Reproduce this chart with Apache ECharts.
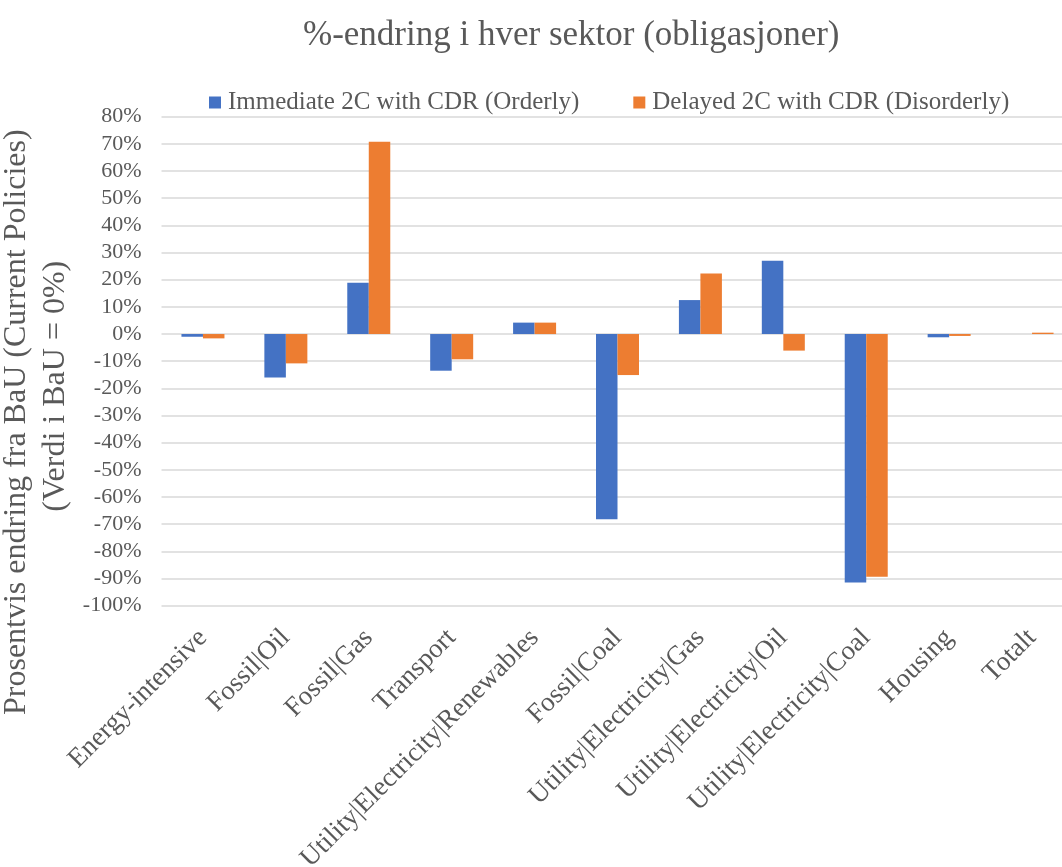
<!DOCTYPE html>
<html>
<head>
<meta charset="utf-8">
<script src="https://cdn.jsdelivr.net/npm/echarts@6/dist/echarts.min.js"></script>
<style>
  html, body { margin: 0; padding: 0; background: #ffffff; }
  #chart { width: 1062px; height: 867px; }
</style>
</head>
<body>
<div id="chart"></div>
<script>
// Sectors on the horizontal axis
var sectors = [
  'Energy-intensive', 'Fossil|Oil', 'Fossil|Gas', 'Transport',
  'Utility|Electricity|Renewables', 'Fossil|Coal', 'Utility|Electricity|Gas',
  'Utility|Electricity|Oil', 'Utility|Electricity|Coal', 'Housing', 'Totalt'
];

// Percent change versus BaU (Current Policies)
var orderly = [-1.0, -16.0, 18.9, -13.5, 4.2, -68.2, 12.5, 27.0, -91.5, -1.2, 0.0];
var disorderly = [-1.6, -10.8, 70.8, -9.3, 4.2, -15.1, 22.3, -6.1, -89.3, -0.7, 0.5];

var seriesNames = ['Immediate 2C with CDR (Orderly)', 'Delayed 2C with CDR (Disorderly)'];

// Value axis range and step (percent)
var yMin = -100;
var yMax = 80;
var yStep = 10;

var serif = '"Liberation Serif", "DejaVu Serif", serif';
var textColor = '#595959';
var gridColor = '#d9d9d9';

var chart = echarts.init(document.getElementById('chart'), null, { renderer: 'canvas' });

chart.setOption({
  animation: false,
  backgroundColor: '#ffffff',
  title: {
    text: '%-endring i hver sektor (obligasjoner)',
    left: 298,
    top: 13,
    textStyle: { fontFamily: serif, fontSize: 35, fontWeight: 'normal', color: textColor }
  },
  legend: {
    data: seriesNames,
    left: 204,
    top: 85,
    icon: 'rect',
    itemWidth: 12,
    itemHeight: 12,
    itemGap: 54,
    textStyle: { fontFamily: serif, fontSize: 25, color: textColor, padding: [0, 0, 0, 2] }
  },
  grid: {
    left: 161.5,
    right: -11.5,
    top: 116.7,
    bottom: 261.3,
    containLabel: false,
    outerBoundsMode: 'none'
  },
  xAxis: {
    type: 'category',
    data: sectors,
    axisLine: { show: false, onZero: false },
    axisTick: { show: false },
    splitLine: { show: false },
    axisLabel: {
      rotate: 45,
      interval: 0,
      margin: 28,
      fontFamily: serif,
      fontSize: 27,
      color: textColor
    }
  },
  yAxis: {
    type: 'value',
    min: yMin,
    max: yMax,
    interval: yStep,
    axisLine: { show: false },
    axisTick: { show: false },
    splitLine: { show: true, lineStyle: { color: gridColor, width: 1.5 } },
    axisLabel: {
      margin: 20,
      fontFamily: serif,
      fontSize: 22,
      color: textColor,
      formatter: function (v) { return v + '%'; }
    },
    name: '{a|Prosentvis endring fra BaU (Current Policies)}\n{b|(Verdi i BaU = 0%)}',
    nameLocation: 'middle',
    nameGap: 77,
    nameRotate: 90,
    nameTextStyle: {
      align: 'center',
      padding: [0, 122, 0, 0],
      rich: {
        a: { fontFamily: serif, fontSize: 32, color: textColor, lineHeight: 39 },
        b: { fontFamily: serif, fontSize: 32, color: textColor, lineHeight: 39, padding: [0, 0, 0, 72] }
      }
    }
  },
  series: [
    {
      name: seriesNames[0],
      type: 'bar',
      data: orderly,
      barWidth: 21.5,
      barGap: '0%',
      itemStyle: { color: '#4472C4' }
    },
    {
      name: seriesNames[1],
      type: 'bar',
      data: disorderly,
      barWidth: 21.5,
      barGap: '0%',
      itemStyle: { color: '#ED7D31' }
    }
  ]
});
</script>
</body>
</html>
